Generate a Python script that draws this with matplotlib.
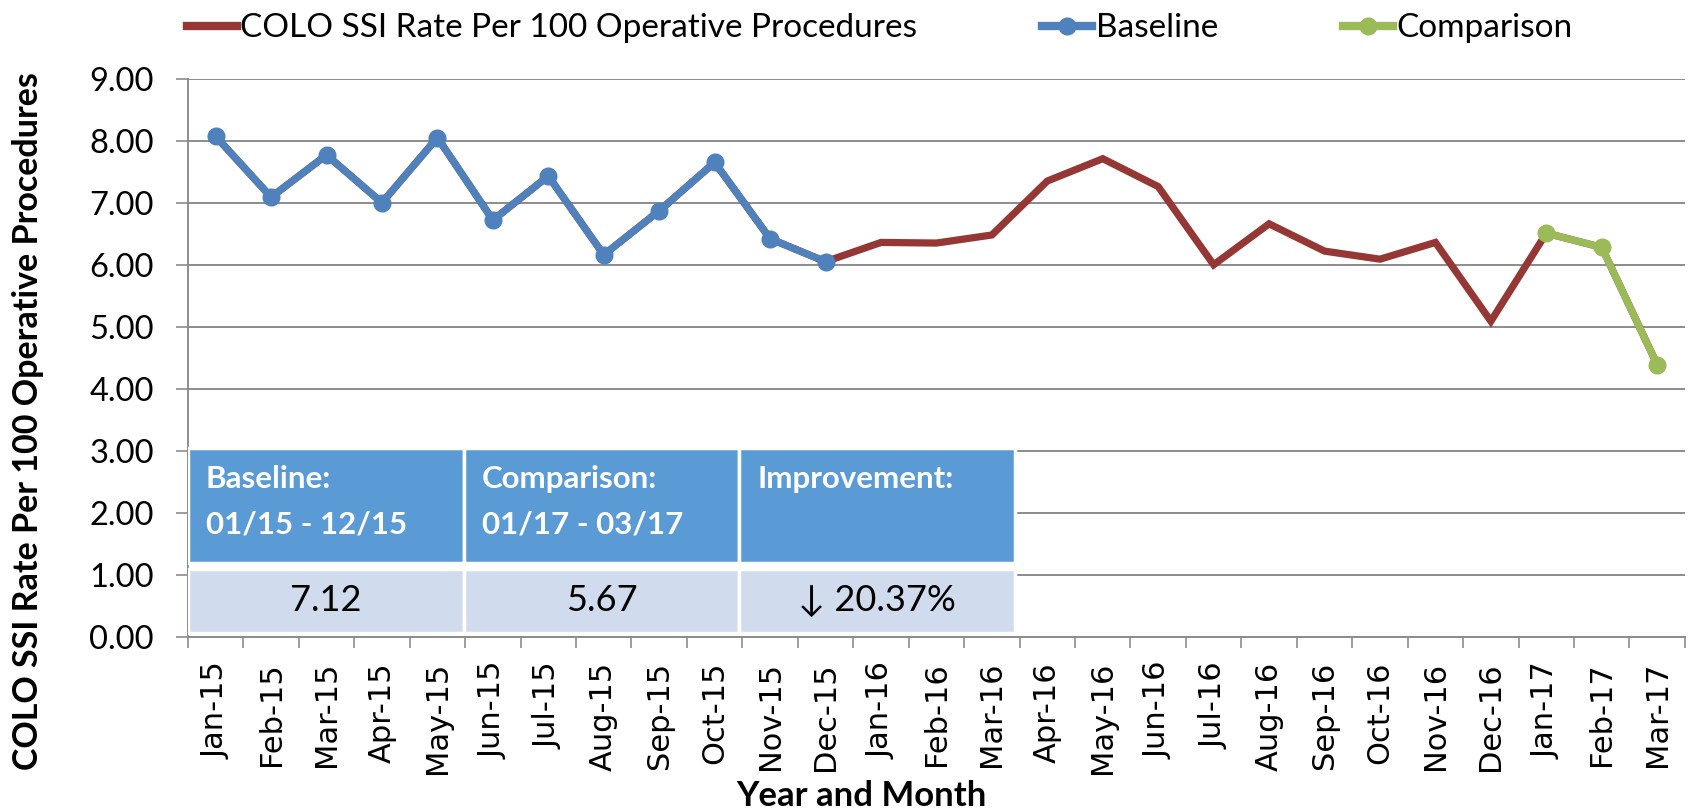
import numpy as np
import matplotlib
matplotlib.use("Agg")
import matplotlib.pyplot as plt
from matplotlib.lines import Line2D
from matplotlib.patches import Rectangle

months = ["Jan-15", "Feb-15", "Mar-15", "Apr-15", "May-15", "Jun-15", "Jul-15",
          "Aug-15", "Sep-15", "Oct-15", "Nov-15", "Dec-15", "Jan-16", "Feb-16",
          "Mar-16", "Apr-16", "May-16", "Jun-16", "Jul-16", "Aug-16", "Sep-16",
          "Oct-16", "Nov-16", "Dec-16", "Jan-17", "Feb-17", "Mar-17"]
ssi_rate = [8.07, 7.09, 7.77, 7.00, 8.05, 6.72, 7.43, 6.16, 6.87, 7.65, 6.42, 6.05,
            6.36, 6.35, 6.48, 7.35, 7.71, 7.26, 6.00, 6.66, 6.22, 6.09, 6.36, 5.09,
            6.51, 6.28, 4.39]
baseline_idx = list(range(0, 12))
comparison_idx = [24, 25, 26]

table_header = ["Baseline:\n01/15 - 12/15", "Comparison:\n01/17 - 03/17", "Improvement:"]
table_values = ["7.12", "5.67", "\u2193 20.37%"]

RED = "#953735"
BLUE = "#4F81BD"
GREEN = "#9BBB59"
GRID = "#8C8C8C"

plt.rcParams["font.family"] = ["Lato", "DejaVu Sans"]

fig = plt.figure(figsize=(16.9, 8.11), dpi=100)
ax = fig.add_axes([0.1112, 0.2146, 0.8858, 0.6884])

x = np.arange(len(months))
rate = np.array(ssi_rate)
ax.plot(x, rate, color=RED, lw=5.2, zorder=3, solid_joinstyle="miter")
ax.plot(x[baseline_idx], rate[baseline_idx], color=BLUE, lw=5.2, marker="o",
        ms=12, zorder=4)
ax.plot(x[comparison_idx], rate[comparison_idx], color=GREEN, lw=5.2, marker="o",
        ms=12, zorder=4)

ax.set_xlim(-0.5, len(months) - 0.5)
ax.set_ylim(0, 9)
ax.set_yticks(np.arange(0, 10, 1))
ax.set_yticklabels([f"{v:.2f}" for v in range(10)], fontsize=23.5)
ax.set_xticks(x)
ax.set_xticklabels(months, rotation=90, fontsize=22, family="DejaVu Sans")
ax.set_xticks(np.arange(-0.5, len(months), 1), minor=True)
ax.tick_params(axis="x", which="major", length=0, pad=18)
ax.tick_params(axis="x", which="minor", length=8, color=GRID, width=1.2)
ax.tick_params(axis="y", length=8.6, color=GRID, width=1.2, pad=16)

ax.grid(axis="y", color=GRID, lw=1.4, zorder=0)
ax.set_axisbelow(True)
for s in ["top", "right"]:
    ax.spines[s].set_visible(False)
for s in ["left", "bottom"]:
    ax.spines[s].set_color(GRID)
    ax.spines[s].set_linewidth(1.4)

ax.set_ylabel("COLO SSI Rate Per 100 Operative Procedures", fontsize=24.5,
              fontweight="bold", va="center")
ax.yaxis.set_label_coords(-0.107, 0.387)
ax.set_xlabel("Year and Month", fontsize=25, fontweight="bold", va="center")
ax.xaxis.set_label_coords(0.45, -0.285)

handles = [
    Line2D([], [], color=RED, lw=6),
    Line2D([], [], color=BLUE, lw=6, marker="o", ms=12),
    Line2D([], [], color=GREEN, lw=6, marker="o", ms=12),
]
labels = ["COLO SSI Rate Per 100 Operative Procedures", "Baseline", "Comparison"]
fig.legend(handles, labels, loc="center left", bbox_to_anchor=(0.1107, 0.965),
           ncol=3, frameon=False, fontsize=24, handlelength=1.5,
           handletextpad=0.1, columnspacing=3.75, borderpad=0, borderaxespad=0)

# summary table in lower left (axes coordinates)
col_w = 0.5525 / 3
head_top, head_bot = 0.338, 0.133
val_top, val_bot = 0.122, 0.007
line_y = [0.267, 0.186]
for i in range(3):
    x0 = i * col_w
    ax.add_patch(Rectangle((x0, head_bot), col_w, head_top - head_bot,
                           transform=ax.transAxes, facecolor="#5B9BD5",
                           edgecolor="white", lw=2.5, zorder=5))
    ax.add_patch(Rectangle((x0, val_bot), col_w, val_top - val_bot,
                           transform=ax.transAxes, facecolor="#D0DCEE",
                           edgecolor="white", lw=2.5, zorder=5))
    for j, line in enumerate(table_header[i].split("\n")):
        ax.text(x0 + 0.012, line_y[j], line, transform=ax.transAxes,
                color="white", fontsize=22.5, fontweight="bold", ha="left",
                va="baseline", zorder=6)
    ax.text(x0 + col_w / 2, (val_top + val_bot) / 2, table_values[i],
            transform=ax.transAxes, fontsize=26, ha="center", va="center", zorder=6)

fig.savefig("out.png", dpi=100)
